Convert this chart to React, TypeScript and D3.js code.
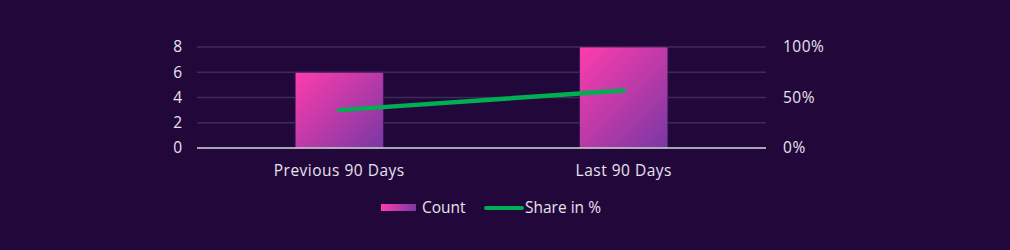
import React from "react";
import * as d3 from "d3";

const categories = ["Previous 90 Days", "Last 90 Days"];
const countValues = [6, 8];
const shareValues = [37.5, 57];
const leftTicks = [0, 2, 4, 6, 8];
const rightTicks = [0, 50, 100];

export default function App() {
  const W = 1010, H = 250;
  const left = 197, right = 766, top = 47, bottom = 148;
  const x = d3.scaleBand().domain(categories).range([left, right]).paddingInner(0.69).paddingOuter(0.345);
  const yL = d3.scaleLinear().domain([0, 8]).range([bottom, top]);
  const yR = d3.scaleLinear().domain([0, 100]).range([bottom, top]);
  const line = d3.line<number>()
    .x((_, i) => (x(categories[i]) as number) + x.bandwidth() / 2)
    .y((d) => yR(d));
  const font = "'Open Sans', sans-serif";
  const text = "#e8e2f0";
  const fs = 15.5;
  const ls = 0.5;
  const pink = "#ff3cac";
  const purple = "#7838a4";
  return (
    <svg width={W} height={H} style={{ position: "absolute", left: 0, top: 0, background: "#22083a" }}>
      <defs>
        {categories.map((c, i) => {
          const x0 = x(c) as number;
          const y0 = yL(countValues[i]);
          const w = x.bandwidth();
          const h = bottom - y0;
          const d = (w + h) / 2;
          return (
            <linearGradient key={c} id={`barG${i}`} gradientUnits="userSpaceOnUse" x1={x0} y1={y0} x2={x0 + d} y2={y0 + d}>
              <stop offset="0%" stopColor={pink} />
              <stop offset="100%" stopColor={purple} />
            </linearGradient>
          );
        })}
        <linearGradient id="legG" x1="0" y1="0" x2="1" y2="0">
          <stop offset="0%" stopColor={pink} />
          <stop offset="100%" stopColor={purple} />
        </linearGradient>
      </defs>
      <rect x={0} y={0} width={W} height={H} fill="#22083a" />
      {leftTicks.slice(1).map((t) => (
        <line key={t} x1={left} x2={right} y1={yL(t)} y2={yL(t)} stroke="#3e2a58" strokeWidth={1.5} />
      ))}
      {categories.map((c, i) => (
        <rect key={c} x={x(c)} y={yL(countValues[i])} width={x.bandwidth()} height={bottom - yL(countValues[i])}
          fill={`url(#barG${i})`} stroke="#3a1a5a" strokeWidth={0.8} />
      ))}
      <line x1={left} x2={right} y1={bottom} y2={bottom} stroke="#d9d9d9" strokeWidth={1.5} />
      <path d={line(shareValues) || ""} fill="none" stroke="#00b050" strokeWidth={4.5} strokeLinecap="round" />
      {leftTicks.map((t) => (
        <text key={t} x={182} y={yL(t)} dy="0.35em" textAnchor="end" fill={text} fontFamily={font} fontSize={fs}>{t}</text>
      ))}
      {rightTicks.map((t) => (
        <text key={t} x={783} y={yR(t)} dy="0.35em" textAnchor="start" fill={text} fontFamily={font} fontSize={fs} letterSpacing={ls}>{t}%</text>
      ))}
      {categories.map((c) => (
        <text key={c} x={(x(c) as number) + x.bandwidth() / 2} y={171} dy="0.35em" textAnchor="middle" fill={text} fontFamily={font} fontSize={fs} letterSpacing={ls}>{c}</text>
      ))}
      <rect x={381} y={204} width={35} height={7} fill="url(#legG)" />
      <text x={422} y={208} dy="0.35em" fill={text} fontFamily={font} fontSize={fs}>Count</text>
      <line x1={486} x2={522} y1={208} y2={208} stroke="#00b050" strokeWidth={4} strokeLinecap="round" />
      <text x={525} y={208} dy="0.35em" fill={text} fontFamily={font} fontSize={fs}>Share in %</text>
    </svg>
  );
}
